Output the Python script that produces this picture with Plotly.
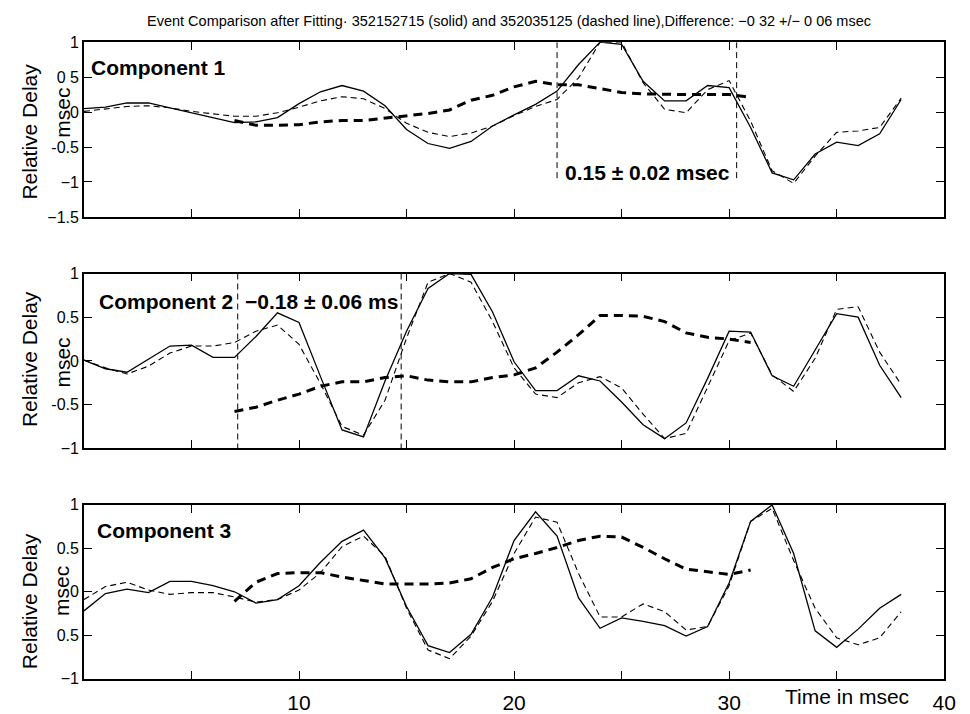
import plotly.graph_objects as go

# ---------------- data ----------------
t = list(range(39))          # time samples, msec
t_fit = list(range(7, 32))   # fitted delay curve support

c1_solid = [0.05, 0.07, 0.13, 0.13, 0.06, -0.01, -0.09, -0.15, -0.14, -0.08,
            0.12, 0.29, 0.38, 0.30, 0.09, -0.25, -0.45, -0.52, -0.42, -0.20,
            -0.04, 0.11, 0.30, 0.68, 1.00, 0.97, 0.44, 0.16, 0.16, 0.38,
            0.35, -0.22, -0.87, -0.97, -0.60, -0.43, -0.48, -0.31, 0.18]
c1_dash = [0.01, 0.05, 0.08, 0.09, 0.06, 0.01, -0.03, -0.06, -0.06, -0.01,
           0.07, 0.16, 0.22, 0.19, 0.05, -0.16, -0.29, -0.35, -0.30, -0.20,
           -0.05, 0.08, 0.18, 0.49, 1.00, 1.00, 0.42, 0.04, -0.01, 0.32,
           0.45, -0.13, -0.84, -1.02, -0.63, -0.29, -0.27, -0.22, 0.20]
c1_fit = [-0.12, -0.19, -0.19, -0.18, -0.14, -0.12, -0.12, -0.09, -0.05, -0.02,
          0.03, 0.17, 0.24, 0.36, 0.44, 0.39, 0.39, 0.34, 0.28, 0.26,
          0.25, 0.25, 0.25, 0.25, 0.21]

c2_solid = [0.01, -0.09, -0.13, 0.02, 0.17, 0.18, 0.04, 0.04, 0.28, 0.55,
            0.44, -0.18, -0.79, -0.87, -0.23, 0.34, 0.83, 1.00, 0.99, 0.56,
            -0.01, -0.34, -0.34, -0.17, -0.23, -0.47, -0.73, -0.89, -0.71, -0.20,
            0.34, 0.33, -0.17, -0.29, 0.12, 0.54, 0.50, -0.05, -0.42]
c2_dash = [0.01, -0.08, -0.15, -0.06, 0.09, 0.17, 0.17, 0.21, 0.34, 0.41,
           0.19, -0.26, -0.75, -0.85, -0.45, 0.26, 0.90, 1.00, 0.90, 0.45,
           -0.08, -0.38, -0.42, -0.25, -0.18, -0.31, -0.61, -0.89, -0.83, -0.31,
           0.23, 0.32, -0.16, -0.35, 0.03, 0.59, 0.62, 0.10, -0.27]
c2_fit = [-0.58, -0.53, -0.45, -0.38, -0.29, -0.24, -0.24, -0.19, -0.17, -0.22,
          -0.24, -0.24, -0.19, -0.16, -0.08, 0.10, 0.30, 0.52, 0.52, 0.51,
          0.45, 0.32, 0.27, 0.25, 0.21]

c3_solid = [-0.22, -0.02, 0.03, -0.01, 0.12, 0.12, 0.07, 0.00, -0.13, -0.09,
            0.07, 0.34, 0.58, 0.71, 0.39, -0.17, -0.62, -0.70, -0.49, -0.06,
            0.59, 0.92, 0.64, -0.07, -0.42, -0.30, -0.34, -0.39, -0.51, -0.40,
            0.10, 0.81, 1.00, 0.44, -0.45, -0.64, -0.43, -0.19, -0.03]
c3_dash = [-0.09, 0.06, 0.11, 0.02, -0.03, -0.01, -0.01, -0.06, -0.12, -0.09,
           0.02, 0.22, 0.52, 0.64, 0.41, -0.19, -0.67, -0.77, -0.51, -0.11,
           0.44, 0.86, 0.80, 0.21, -0.29, -0.29, -0.14, -0.23, -0.44, -0.40,
           0.07, 0.81, 0.96, 0.36, -0.19, -0.53, -0.61, -0.53, -0.23]
c3_fit = [-0.11, 0.11, 0.21, 0.22, 0.22, 0.17, 0.13, 0.09, 0.09, 0.09,
          0.10, 0.15, 0.28, 0.38, 0.44, 0.51, 0.59, 0.64, 0.63, 0.51,
          0.38, 0.26, 0.23, 0.20, 0.25]

marks1 = [22.0, 30.35]     # window markers, component 1
marks2 = [7.15, 14.75]     # window markers, component 2
mark_span = [1.0, -1.0]

x_tickvals = [5, 10, 15, 20, 25, 30, 35, 40]
x_ticktext = ["", "10", "", "20", "", "30", "", "40"]
y1_vals = [1, 0.5, 0, -0.5, -1, -1.5]
y1_text = ["1", "0 5", "0", "-0.5", "\u22121", "\u22121.5"]
y2_vals = [1, 0.5, 0, -0.5, -1]
y2_text = ["1", "0.5", "0", "-0.5", "\u22121"]
y3_vals = [1, 0.5, 0, -0.5, -1]
y3_text = ["1", "0.5", "0", "0.5", "\u22121"]

title_text = ("Event Comparison after Fitting\u00b7 352152715 (solid) and 352035125 "
              "(dashed line),Difference: \u22120 32 +/\u2212 0 06 msec")

# ---------------- figure ----------------
FONT = "Liberation Sans, Arial, sans-serif"
fig = go.Figure()

panels = [
    (c1_solid, c1_dash, c1_fit, marks1, "x", "y"),
    (c2_solid, c2_dash, c2_fit, marks2, "x2", "y2"),
    (c3_solid, c3_dash, c3_fit, [], "x3", "y3"),
]
for s, d, f, mk, xa, ya in panels:
    for m in mk:
        fig.add_trace(go.Scatter(x=[m, m], y=mark_span, mode="lines", xaxis=xa, yaxis=ya,
                                 line=dict(color="black", width=1, dash="6px,4px"),
                                 showlegend=False, hoverinfo="skip"))
    fig.add_trace(go.Scatter(x=t_fit, y=f, mode="lines", xaxis=xa, yaxis=ya,
                             line=dict(color="black", width=3, dash="9px,6px"),
                             showlegend=False))
    fig.add_trace(go.Scatter(x=t, y=d, mode="lines", xaxis=xa, yaxis=ya,
                             line=dict(color="black", width=1.1, dash="6px,4px"),
                             showlegend=False))
    fig.add_trace(go.Scatter(x=t, y=s, mode="lines", xaxis=xa, yaxis=ya,
                             line=dict(color="black", width=1.3),
                             showlegend=False))

xd = [85 / 970, 956 / 970]
doms = [[1 - 214 / 714, 1 - 35 / 714], [1 - 451 / 714, 1 - 272 / 714], [1 - 687 / 714, 1 - 509 / 714]]
axis_common = dict(showline=True, linecolor="black", linewidth=1.6, mirror="allticks",
                   ticks="inside", ticklen=8, tickcolor="black", tickwidth=1.2,
                   showgrid=False, zeroline=False)

layout = dict(
    width=970, height=714, margin=dict(l=0, r=0, t=0, b=0),
    plot_bgcolor="white", paper_bgcolor="white",
    font=dict(family=FONT, color="black"),
)
yvals = [(y1_vals, y1_text, [-1.5, 1]), (y2_vals, y2_text, [-1, 1]), (y3_vals, y3_text, [-1, 1])]
for i in range(3):
    xn = "xaxis" if i == 0 else f"xaxis{i+1}"
    yn = "yaxis" if i == 0 else f"yaxis{i+1}"
    anchor_y = "y" if i == 0 else f"y{i+1}"
    anchor_x = "x" if i == 0 else f"x{i+1}"
    layout[xn] = dict(axis_common, domain=xd, range=[0, 40], anchor=anchor_y,
                      tickvals=x_tickvals,
                      ticktext=x_ticktext if i == 2 else [""] * len(x_tickvals),
                      tickfont=dict(size=21, family=FONT), ticklabelstandoff=4)
    vv, tt, rr = yvals[i]
    layout[yn] = dict(axis_common, domain=doms[i], range=rr, anchor=anchor_x,
                      tickvals=vv, ticktext=tt, tickfont=dict(size=16, family=FONT))
fig.update_layout(**layout)

ann = []
ann.append(dict(text=title_text, x=515 / 970, y=1 - 13 / 714, xref="paper", yref="paper",
                showarrow=False, font=dict(size=14.5, family=FONT), xanchor="center", yanchor="middle"))
ylab_pos = [(127, 107), (360, 363), (608, 597)]
for rd, ms in ylab_pos:
    ann.append(dict(text="Relative Delay", x=30 / 970, y=1 - rd / 714, xref="paper", yref="paper",
                    showarrow=False, textangle=-90, font=dict(size=21, family=FONT),
                    xanchor="center", yanchor="middle"))
    ann.append(dict(text="msec", x=63 / 970, y=1 - ms / 714, xref="paper", yref="paper",
                    showarrow=False, textangle=-90, font=dict(size=21, family=FONT),
                    xanchor="center", yanchor="middle"))
bold = dict(size=21, family=FONT)
ann += [
    dict(text="<b>Component 1</b>", x=0.25, y=0.64, xref="x", yref="y", xanchor="left",
         yanchor="middle", showarrow=False, font=bold),
    dict(text="<b>0.15 \u00b1 0.02 msec</b>", x=26.2, y=-0.86, xref="x", yref="y",
         xanchor="center", yanchor="middle", showarrow=False, font=bold),
    dict(text="<b>Component 2</b>", x=0.6, y=0.68, xref="x2", yref="y2", xanchor="left",
         yanchor="middle", showarrow=False, font=bold),
    dict(text="<b>\u22120.18 \u00b1 0.06 ms</b>", x=7.4, y=0.68, xref="x2", yref="y2",
         xanchor="left", yanchor="middle", showarrow=False, font=bold),
    dict(text="<b>Component 3</b>", x=0.5, y=0.70, xref="x3", yref="y3", xanchor="left",
         yanchor="middle", showarrow=False, font=bold),
    dict(text="Time in msec", x=35.5, y=1 - 705 / 714, xref="x3", yref="paper",
         xanchor="center", yanchor="middle", showarrow=False, font=dict(size=21, family=FONT)),
]
fig.update_layout(annotations=ann)

fig.write_html("out.html")
